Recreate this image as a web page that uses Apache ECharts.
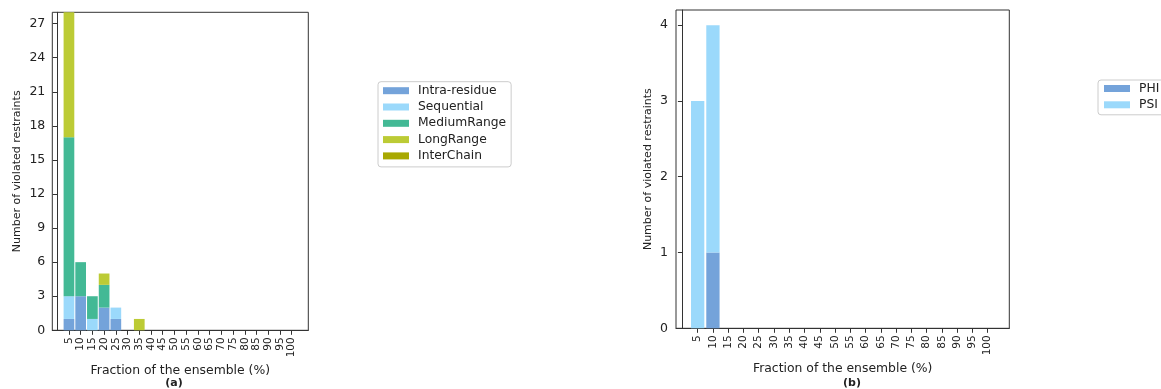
<!DOCTYPE html>
<html><head><meta charset="utf-8">
<script src="https://cdn.jsdelivr.net/npm/echarts@6/dist/echarts.min.js"></script>
<style>html,body{margin:0;padding:0;background:#fff}#c{width:1161px;height:389px}</style>
</head><body><div id="c"></div>
<script>
// ---- data ----
const fractionTicks = [5,10,15,20,25,30,35,40,45,50,55,60,65,70,75,80,85,90,95,100];
const intraResidue = [1,3,0,2,1,0,0,0,0,0,0,0,0,0,0,0,0,0,0,0];
const sequential   = [2,0,1,0,1,0,0,0,0,0,0,0,0,0,0,0,0,0,0,0];
const mediumRange  = [14,3,2,2,0,0,0,0,0,0,0,0,0,0,0,0,0,0,0,0];
const longRange    = [11,0,0,1,0,0,1,0,0,0,0,0,0,0,0,0,0,0,0,0];
const interChain   = [0,0,0,0,0,0,0,0,0,0,0,0,0,0,0,0,0,0,0,0];
const phi = [0,1,0,0,0,0,0,0,0,0,0,0,0,0,0,0,0,0,0,0];
const psi = [3,3,0,0,0,0,0,0,0,0,0,0,0,0,0,0,0,0,0,0];
const countTicksA = [0,3,6,9,12,15,18,21,24,27];
const countTicksB = [0,1,2,3,4];
const xTitle = 'Fraction of the ensemble (%)';
const yTitle = 'Number of violated restraints';

const FONT = 'DejaVu Sans';
const INK = '#333';
const TXT = '#222';
const colors = {
  'Intra-residue': '#74a3da', 'Sequential': '#9bd9fb', 'MediumRange': '#43b995',
  'LongRange': '#bccb35', 'InterChain': '#a8a800', 'PHI': '#74a3da', 'PSI': '#9bd9fb'
};

// value first, fraction second, so that the stack runs along the count axis
function pairs(vals){ return fractionTicks.map((x,i)=>[vals[i], x]); }

function xAxisDef(gi, gap){
  return {
    type:'value', gridIndex:gi, min:-2.1, max:107.1,
    axisLine:{show:true, onZero:false, lineStyle:{color:INK, width:1}},
    axisTick:{show:true, customValues:fractionTicks, length:4.5, lineStyle:{color:INK}},
    axisLabel:{customValues:fractionTicks, rotate:90, fontSize:10.5, margin:7, color:TXT, fontFamily:FONT,
      formatter:v=>String(v)},
    splitLine:{show:false},
    name:xTitle, nameLocation:'middle', nameGap:gap,
    nameTextStyle:{fontSize:12.4, color:TXT, fontFamily:FONT}
  };
}
function yAxisDef(gi, max, ticks, gap, margin){
  return {
    type:'value', gridIndex:gi, min:0, max:max,
    axisLine:{show:true, lineStyle:{color:INK, width:1}},
    axisTick:{show:true, customValues:ticks, length:4.5, lineStyle:{color:INK}},
    axisLabel:{customValues:ticks, fontSize:12.5, margin:margin, color:TXT, fontFamily:FONT},
    splitLine:{show:false},
    name:yTitle, nameLocation:'middle', nameGap:gap, nameRotate:90,
    nameTextStyle:{fontSize:11, color:TXT, fontFamily:FONT}
  };
}
function barSeries(name, vals, gi, w){
  return {
    type:'bar', name:name, stack:'s'+gi, xAxisIndex:gi, yAxisIndex:gi,
    data:pairs(vals), encode:{x:1, y:0}, barWidth:w,
    itemStyle:{color:colors[name]}, emphasis:{disabled:true}, animation:false
  };
}
const legendCommon = {
  orient:'vertical', icon:'rect', itemWidth:26, itemHeight:7, itemGap:2.3,
  borderColor:'#cccccc', borderWidth:1, borderRadius:3,
  textStyle:{fontSize:12.3, lineHeight:14, color:TXT, fontFamily:FONT, padding:[0,0,0,4]},
  selectedMode:false
};

const chart = echarts.init(document.getElementById('c'), null, {renderer:'canvas'});
chart.setOption({
  animation:false,
  backgroundColor:'#ffffff',
  grid:[
    {left:52.3, top:12.3, width:256, height:318, show:true, borderColor:INK, borderWidth:1, containLabel:false},
    {left:676, top:10, width:333.3, height:318.3, show:true, borderColor:INK, borderWidth:1, containLabel:false}
  ],
  xAxis:[xAxisDef(0, 32), xAxisDef(1, 31)],
  yAxis:[yAxisDef(0, 28, countTicksA, 30, 7), yAxisDef(1, 4.2, countTicksB, 22.7, 8)],
  legend:[
    Object.assign({}, legendCommon, {left:378, top:81.7, padding:[2,5,4,5],
      data:['Intra-residue','Sequential','MediumRange','LongRange','InterChain']}),
    Object.assign({}, legendCommon, {left:1098, top:80, padding:[1.5,8,3,6],
      data:['PHI','PSI']})
  ],
  series:[
    barSeries('Intra-residue', intraResidue, 0, 10.7),
    barSeries('Sequential', sequential, 0, 10.7),
    barSeries('MediumRange', mediumRange, 0, 10.7),
    barSeries('LongRange', longRange, 0, 10.7),
    barSeries('InterChain', interChain, 0, 10.7),
    barSeries('PHI', phi, 1, 13.3),
    barSeries('PSI', psi, 1, 13.3)
  ],
  graphic:[
    {type:'text', x:174, y:383.5, style:{text:'(a)', font:'bold 11px "DejaVu Sans"', fill:TXT, textAlign:'center', textVerticalAlign:'middle'}},
    {type:'text', x:852, y:383, style:{text:'(b)', font:'bold 11px "DejaVu Sans"', fill:TXT, textAlign:'center', textVerticalAlign:'middle'}}
  ]
});
</script>
</body></html>
